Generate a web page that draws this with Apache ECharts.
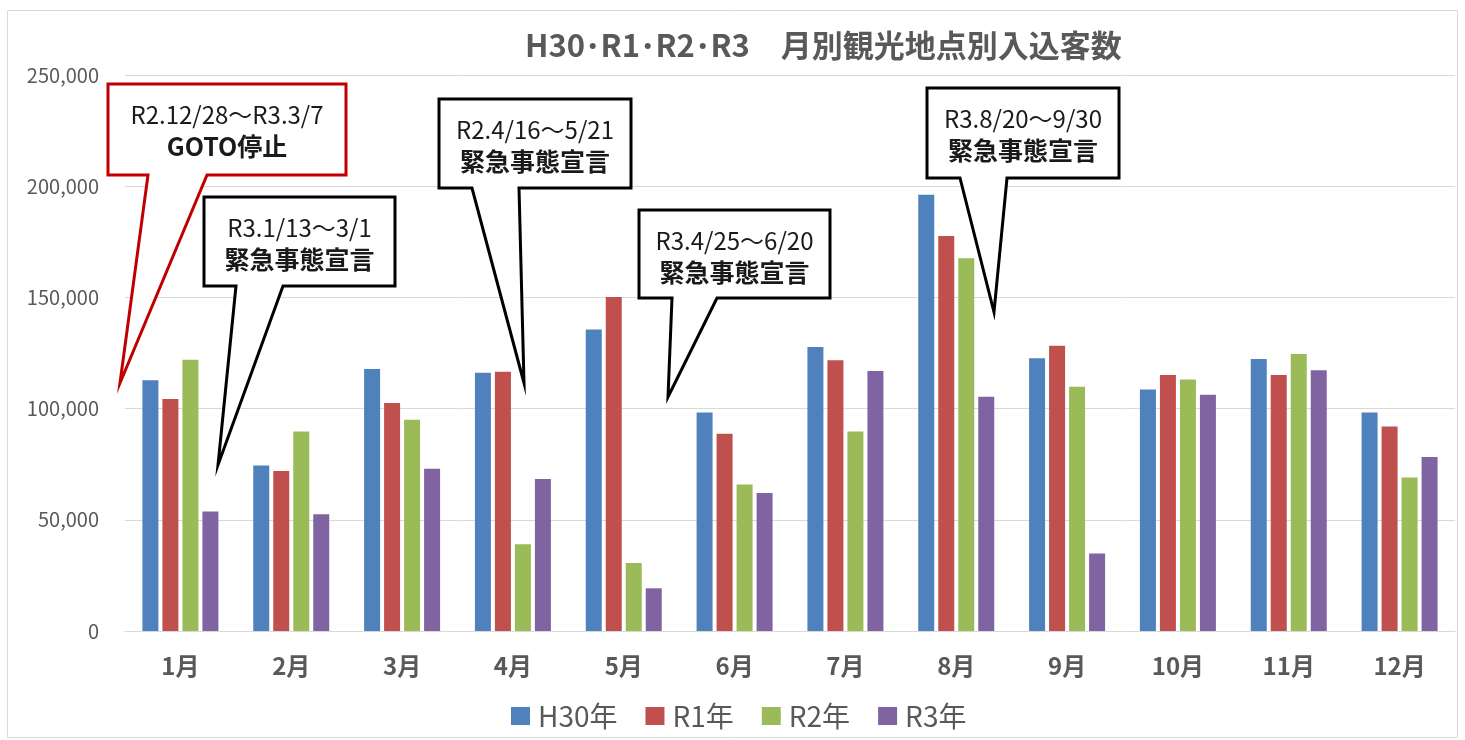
<!DOCTYPE html>
<html lang="ja">
<head>
<meta charset="utf-8">
<title>月別観光地点別入込客数</title>
<script src="https://cdn.jsdelivr.net/npm/echarts@6/dist/echarts.min.js"></script>
<style>
    html, body { margin: 0; padding: 0; background: #fff; }
    #chart { width: 1465px; height: 740px; }
</style>
</head>
<body>
<div id="chart"></div>
<script>
// 月ラベル
const months = ['1月', '2月', '3月', '4月', '5月', '6月', '7月', '8月', '9月', '10月', '11月', '12月'];

// 年別入込客数
const h30 = [112800, 74400, 117800, 116100, 135600, 98300, 127700, 196100, 122600, 108600, 122300, 98300];
const r1 = [104300, 71900, 102500, 116600, 150200, 88700, 121700, 177600, 128300, 115100, 115100, 92000];
const r2 = [122000, 89700, 95000, 39000, 30600, 65900, 89700, 167600, 109800, 113100, 124500, 69000];
const r3 = [53700, 52500, 72900, 68400, 19200, 62100, 116900, 105300, 34800, 106200, 117200, 78200];

const seriesNames = ['H30年', 'R1年', 'R2年', 'R3年'];
const seriesColors = ['#4F81BD', '#C0504D', '#9BBB59', '#8064A2'];

// 吹き出し注記（位置は画面座標）
const callouts = [
    { lines: ['R2.12/28～R3.3/7', 'GOTO停止'], color: '#C00000', box: [108, 84, 346, 175], tail: [148, 207], tip: [120, 383] },
    { lines: ['R3.1/13～3/1', '緊急事態宣言'], color: '#000000', box: [204, 197, 395, 286], tail: [236, 283], tip: [218, 465] },
    { lines: ['R2.4/16～5/21', '緊急事態宣言'], color: '#000000', box: [439, 99, 631, 188], tail: [472, 519], tip: [524, 383] },
    { lines: ['R3.4/25～6/20', '緊急事態宣言'], color: '#000000', box: [639, 210, 830, 298], tail: [672, 717], tip: [668, 397] },
    { lines: ['R3.8/20～9/30', '緊急事態宣言'], color: '#000000', box: [927, 88, 1119, 178], tail: [960, 1007], tip: [994, 312] }
];

const FONT = '"Noto Sans CJK JP", "Noto Sans", sans-serif';
const chart = echarts.init(document.getElementById('chart'));

// 枠線と吹き出しの図形
const graphics = [{
    type: 'rect',
    shape: { x: 7.5, y: 10.5, width: 1450, height: 727 },
    style: { fill: 'none', stroke: '#D9D9D9', lineWidth: 1 },
    z: 1
}];
callouts.forEach(c => {
    const [x0, y0, x1, y1] = c.box;
    graphics.push({
        type: 'polygon',
        shape: {
            points: [[x0, y0], [x1, y0], [x1, y1], [c.tail[1], y1], c.tip, [c.tail[0], y1], [x0, y1]]
        },
        style: { fill: '#fff', stroke: c.color, lineWidth: 3, lineJoin: 'miter' },
        z: 100
    });
    const cx = (x0 + x1) / 2;
    graphics.push({
        type: 'text',
        x: cx, y: y0 + 31,
        style: { text: c.lines[0], fill: '#1a1a1a', font: '24px ' + FONT, textAlign: 'center', textVerticalAlign: 'middle' },
        z: 101
    });
    graphics.push({
        type: 'text',
        x: cx, y: y0 + 62,
        style: { text: c.lines[1], fill: '#1a1a1a', font: 'bold 25px ' + FONT, textAlign: 'center', textVerticalAlign: 'middle' },
        z: 101
    });
});

const data = [h30, r1, r2, r3];

const option = {
    backgroundColor: '#fff',
    animation: false,
    title: {
        text: 'H30･R1･R2･R3　月別観光地点別入込客数',
        left: 525,
        top: 30,
        padding: 0,
        textStyle: { fontFamily: FONT, fontSize: 31, fontWeight: 'bold', color: '#595959' }
    },
    legend: {
        data: seriesNames,
        left: 506,
        top: 697,
        icon: 'rect',
        itemWidth: 19,
        itemHeight: 18,
        itemGap: 28,
        textStyle: { fontFamily: FONT, fontSize: 28, color: '#595959', padding: [0, 0, 0, 3] }
    },
    grid: { left: 125, right: 10, top: 75, bottom: 109 },
    xAxis: {
        type: 'category',
        data: months,
        axisLine: { lineStyle: { color: '#D9D9D9', width: 1 } },
        axisTick: { show: false },
        axisLabel: { fontFamily: FONT, fontSize: 24, fontWeight: 'bold', color: '#595959', margin: 23 }
    },
    yAxis: {
        type: 'value',
        min: 0,
        max: 250000,
        interval: 50000,
        axisLine: { show: false },
        axisTick: { show: false },
        axisLabel: {
            fontFamily: FONT, fontSize: 20, color: '#595959', margin: 26,
            formatter: v => v.toLocaleString('en-US')
        },
        splitLine: { lineStyle: { color: '#D9D9D9', width: 1 } }
    },
    series: seriesNames.map((name, i) => ({
        name: name,
        type: 'bar',
        data: data[i],
        barWidth: 16,
        barGap: '25%',
        itemStyle: { color: seriesColors[i] }
    })),
    graphic: graphics
};

chart.setOption(option);
</script>
</body>
</html>
